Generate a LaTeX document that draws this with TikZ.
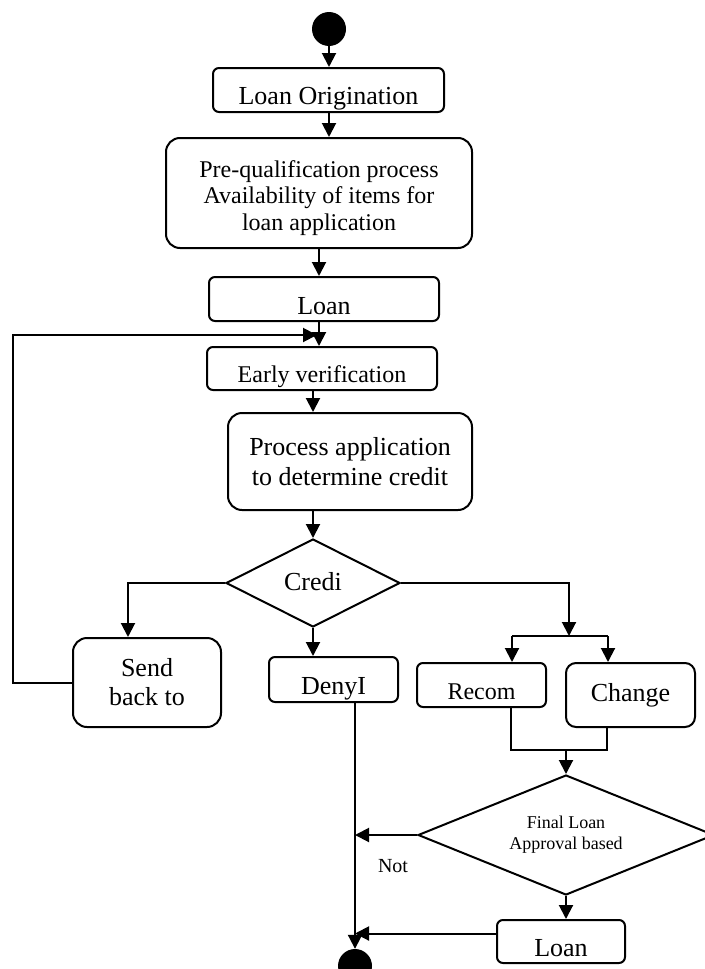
\documentclass[tikz,border=0pt]{standalone}
\usepackage{fontspec}
\setmainfont{Liberation Serif}
\usetikzlibrary{positioning, arrows.meta, shapes.geometric}
\tikzset{
  actbox/.style={draw, line width=2pt, rounded corners=6pt, align=center, inner sep=0pt,
    font=\fontsize{26}{30}\selectfont},
  bigact/.style={actbox, rounded corners=14pt},
  lowtext/.style={text height=#1, text depth=0pt},
  decbox/.style={draw, line width=2pt, shape=diamond, inner sep=0pt, align=center},
  dot/.style={circle, fill=black, minimum size=34pt, inner sep=0pt},
  arr/.style={-{Triangle[length=14pt,width=14pt]}, line width=2pt},
  line/.style={line width=2pt},
}
\begin{document}
\begin{tikzpicture}[x=1pt, y=-1pt]
  \useasboundingbox (0,0) rectangle (704,969);
  % spine
  \node[dot] (start) at (329,29) {};
  \node[actbox, lowtext=28pt, minimum width=231pt, minimum height=44pt] (orig) at (328.5,90) {Loan Origination};
  \node[bigact, lowtext=74pt, minimum width=306pt, minimum height=110pt, font=\fontsize{24}{26.5}\selectfont]
    (prequal) at (319,193) {Pre-qualification process\\Availability of items for\\loan application};
  \node[actbox, lowtext=30pt, minimum width=230pt, minimum height=44pt] (loan1) at (324,299) {Loan};
  \node[actbox, lowtext=27pt, minimum width=230pt, minimum height=43pt, font=\fontsize{24}{28}\selectfont]
    (early) at (322,368.5) {Early verification};
  \node[bigact, minimum width=244pt, minimum height=97pt, font=\fontsize{26}{30}\selectfont]
    (process) at (350,461.5) {Process application\\to determine credit};
  \node[decbox, lowtext=14pt, minimum width=174pt, minimum height=88pt, aspect=2, font=\fontsize{26}{30}\selectfont]
    (credi) at (313,583) {Credi};
  % branches
  \node[bigact, minimum width=148pt, minimum height=89pt, font=\fontsize{26}{29}\selectfont]
    (send) at (147,682.5) {Send\\back to};
  \node[actbox, lowtext=29pt, minimum width=129pt, minimum height=45pt] (deny) at (333.5,679.5) {DenyI};
  \node[actbox, lowtext=28pt, minimum width=129pt, minimum height=44pt, font=\fontsize{24}{28}\selectfont]
    (recom) at (481.5,685) {Recom};
  \node[actbox, lowtext=12pt, rounded corners=10pt, minimum width=129pt, minimum height=64pt]
    (change) at (630.5,695) {Change};
  \node[decbox, minimum width=296pt, minimum height=120pt, aspect=2.5, font=\fontsize{18}{21}\selectfont]
    (final) at (566,835) {Final Loan\\Approval based};
  \node[font=\fontsize{20}{24}\selectfont, inner sep=0pt] (notlbl) at (393,866) {Not};
  \node[actbox, lowtext=29pt, minimum width=128pt, minimum height=43pt] (loan2) at (561,941.5) {Loan};
  \node[dot] (stop) at (355,966) {};

  \coordinate (loopin) at (317,335);
  \coordinate (fork) at (569,636);
  \coordinate (forkL) at (512,636);
  \coordinate (forkR) at (608,636);
  \coordinate (joinL) at (511,750);
  \coordinate (joinR) at (607,750);

  \draw[arr] (start.south) -- (start.south |- orig.north);
  \draw[arr] (orig.south -| start) -- (prequal.north -| start);
  \draw[arr] (prequal.south) -- (prequal.south |- loan1.north);
  \draw[arr] (loan1.south -| prequal) -- (early.north -| prequal);
  \draw[arr] (early.south -| credi) -- (process.north -| credi);
  \draw[arr] (process.south -| credi) -- (credi.north);
  \draw[arr] (credi.south) -- (credi.south |- deny.north);
  % back to early verification
  \draw[arr] (send.west) -- ++(-59,0) |- (loopin);
  \draw[arr] (credi.west) -| ([xshift=-19pt]send.north);
  \draw[arr] (credi.east) -| (fork);
  \draw[line] (forkL) -- (forkR);
  \draw[arr] (forkL) -- (forkL |- recom.north);
  \draw[arr] (forkR) -- (forkR |- change.north);
  \draw[line] (joinL |- recom.south) -- (joinL) -- (joinR) -- (joinR |- change.south);
  \draw[arr] (final.north |- joinL) -- (final.north);
  \draw[arr] (final.west) -- (final.west -| stop);
  \draw[arr] (final.south) -- (final.south |- loan2.north);
  \draw[arr] ([yshift=8pt]loan2.west) -- ([yshift=8pt]loan2.west -| stop);
  \draw[arr] (deny.south -| stop) -- (stop.north);
\end{tikzpicture}
\end{document}
